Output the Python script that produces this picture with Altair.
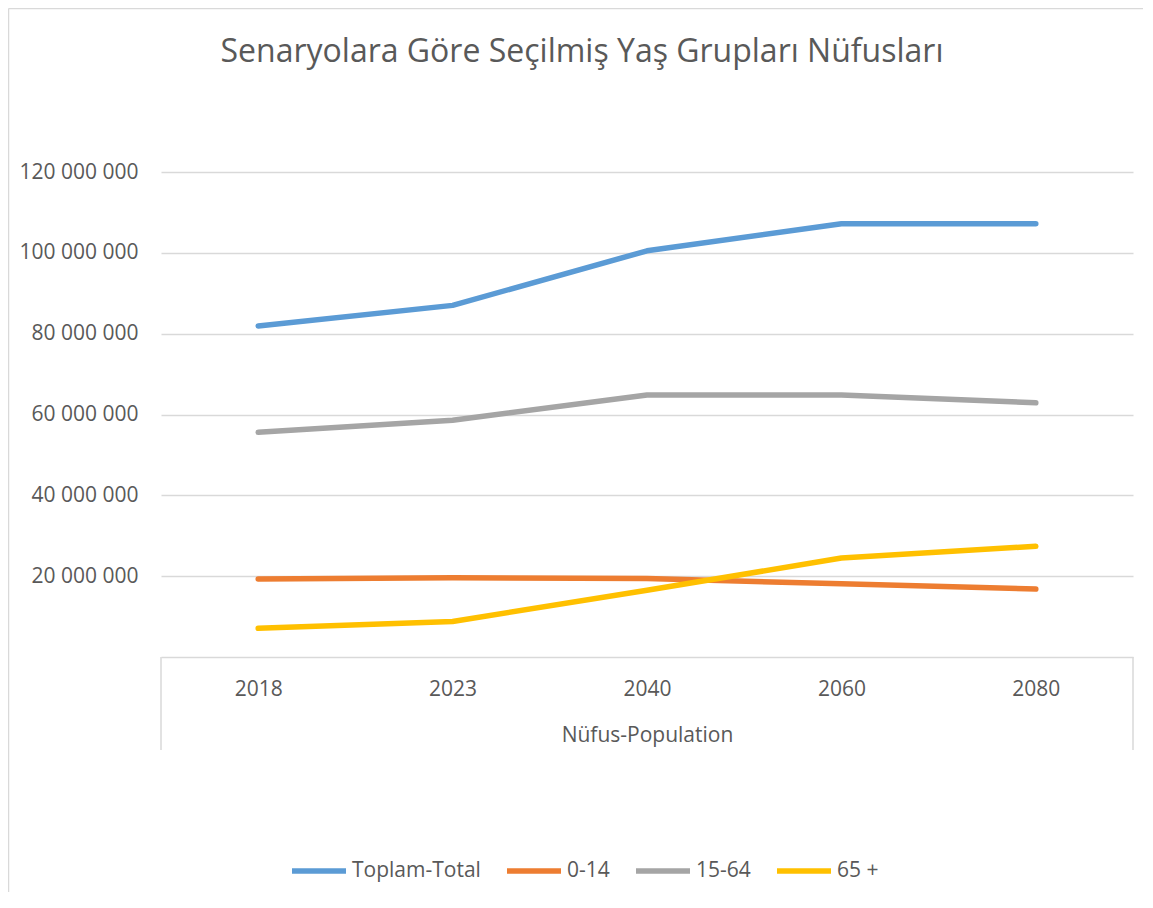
import altair as alt
import pandas as pd

years = ["2018", "2023", "2040", "2060", "2080"]
series_names = ["Toplam-Total", "0-14", "15-64", "65 +"]
total = [81_900_000, 87_000_000, 100_500_000, 107_200_000, 107_200_000]
age_0_14 = [19_300_000, 19_600_000, 19_400_000, 18_100_000, 16_800_000]
age_15_64 = [55_600_000, 58_600_000, 64_800_000, 64_800_000, 62_900_000]
age_65p = [7_100_000, 8_800_000, 16_500_000, 24_500_000, 27_400_000]
y_ticks = [20_000_000, 40_000_000, 60_000_000, 80_000_000, 100_000_000, 120_000_000]
colors = ["#5B9BD5", "#ED7D31", "#A5A5A5", "#FFC000"]

rows = []
for name, vals in zip(series_names, [total, age_0_14, age_15_64, age_65p]):
    for yr, v in zip(years, vals):
        rows.append({"year": yr, "series": name, "value": v})
df = pd.DataFrame(rows)

TXT = "#595959"
GRID = "#D9D9D9"
FONT = "Open Sans"

lines = alt.Chart(df).mark_line(strokeWidth=5.5, strokeCap="round", strokeJoin="round").encode(
    x=alt.X("year:N", sort=years, scale=alt.Scale(padding=0.5),
            axis=alt.Axis(title="Nüfus-Population", labelAngle=0, ticks=False, domain=True,
                          domainColor=GRID, domainWidth=1.5, labelPadding=32,
                          labelBaseline="middle", titleY=84, titleBaseline="alphabetic",
                          grid=False)),
    y=alt.Y("value:Q", scale=alt.Scale(domain=[0, 120_000_000], nice=False),
            axis=alt.Axis(values=y_ticks, title=None, domain=False, ticks=False, labelPadding=23,
                          labelExpr="replace(format(datum.value, ','), regexp(',', 'g'), ' ')",
                          gridColor=GRID, gridWidth=1.5)),
    color=alt.Color("series:N", sort=series_names,
                    scale=alt.Scale(domain=series_names, range=colors),
                    legend=alt.Legend(title=None, orient="none", legendX=128, legendY=669,
                                      direction="horizontal", symbolType="stroke", symbolSize=2916,
                                      symbolStrokeWidth=5.5, labelFontSize=21, labelFont=FONT,
                                      labelColor=TXT, labelOffset=3, columnPadding=15,
                                      labelLimit=300, columns=4)),
)

one = alt.Data(values=[{"a": 1}])

def rule(**enc):
    return alt.Chart(one).mark_rule(color=GRID, strokeWidth=1.5).encode(**enc)

left_sep = rule(x=alt.value(0), y=alt.value(485), y2=alt.value(578))
right_sep = rule(x=alt.value(972), y=alt.value(485), y2=alt.value(578))
border_left = rule(x=alt.value(-152.5), y=alt.value(-163.5), y2=alt.value(735))
border_top = rule(x=alt.value(-152.5), x2=alt.value(990), y=alt.value(-163.5))

chart = alt.layer(lines, left_sep, right_sep, border_left, border_top).properties(
    width=972, height=485,
    padding={"left": 153, "top": 164, "right": 10, "bottom": 235},
    autosize=alt.AutoSizeParams(type="none"),
    title=alt.TitleParams(text="Senaryolara Göre Seçilmiş Yaş Grupları Nüfusları", fontSize=32,
                          font=FONT, color=TXT, fontWeight="normal", offset=-61, dx=-65,
                          anchor="middle"),
).configure_view(stroke=None).configure_axis(
    labelFont=FONT, labelColor=TXT, labelFontSize=21,
    titleFont=FONT, titleColor=TXT, titleFontSize=21, titleFontWeight="normal",
)

chart.save("out.html", embed_options={"renderer": "svg", "actions": False})
